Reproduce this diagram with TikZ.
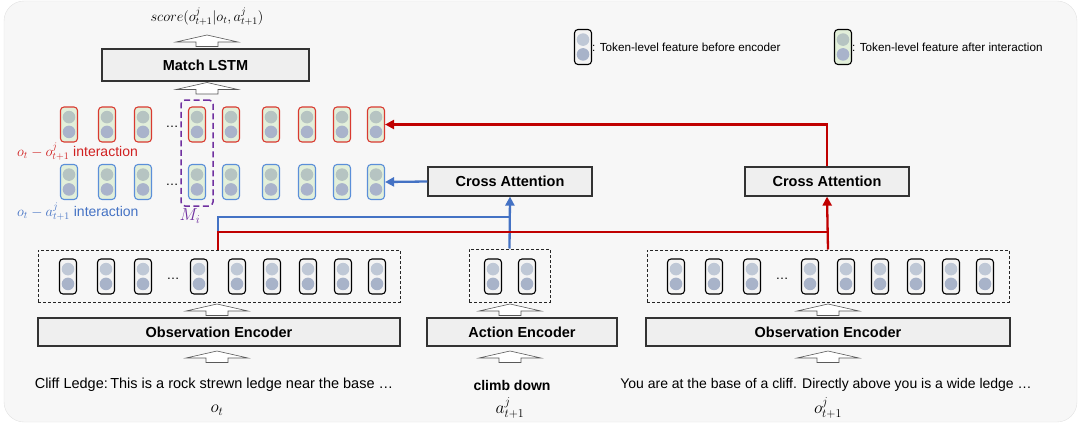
\documentclass[tikz,border=0pt]{standalone}
\usepackage{fontspec}
\setmainfont{Liberation Sans}
\usetikzlibrary{arrows.meta,calc}
\definecolor{bgc}{HTML}{F7F7F7}
\definecolor{bgline}{HTML}{E2E2E2}
\definecolor{boxfill}{HTML}{EFEFEF}
\definecolor{boxline}{HTML}{333333}
\definecolor{cred}{HTML}{C00000}
\definecolor{cblue}{HTML}{4472C4}
\definecolor{cpurple}{HTML}{7030A0}
\definecolor{redb}{HTML}{D93A30}
\definecolor{blueb}{HTML}{5B8FD9}
\definecolor{tokgreen}{HTML}{E2EFDA}
\definecolor{tokwhite}{HTML}{F4F4F4}
\definecolor{cgt}{HTML}{B6C4C2}
\definecolor{cgb}{HTML}{A9B3CB}
\definecolor{cpt}{HTML}{BFC8D6}
\definecolor{cpb}{HTML}{A8B3C9}
\definecolor{txtred}{HTML}{D02020}
\definecolor{txtblue}{HTML}{4472C4}
\begin{document}
\begin{tikzpicture}[x=1pt,y=-1pt,
  tokshape/.style={rectangle, rounded corners=3.5pt, minimum width=17pt, minimum height=35pt, inner sep=0pt, line width=1.1pt},
  tokI/.style={tokshape, fill=tokgreen, path picture={
     \fill[cgt] ([yshift=7.4pt]path picture bounding box.center) circle (6.3pt);
     \fill[cgb] ([yshift=-7.4pt]path picture bounding box.center) circle (6.3pt);}},
  tokP/.style={tokshape, draw=black, fill=tokwhite, path picture={
     \fill[cpt] ([yshift=7.4pt]path picture bounding box.center) circle (6.3pt);
     \fill[cpb] ([yshift=-7.4pt]path picture bounding box.center) circle (6.3pt);}},
  blockbox/.style={draw=boxline, fill=boxfill, line width=1.2pt, inner sep=0pt, font=\fontsize{14.5}{17}\selectfont\bfseries},
  dashbox/.style={draw=black!85, dash pattern=on 3pt off 2pt, line width=1pt},
  hollow/.style={draw=black!65, fill=white, line width=0.6pt},
  redarrow/.style={draw=cred, line width=2.3pt, -{Triangle[length=9pt,width=9pt]}},
  redline/.style={draw=cred, line width=2.3pt},
  bluearrow/.style={draw=cblue, line width=2.3pt, -{Triangle[length=9pt,width=9pt]}},
  blueline/.style={draw=cblue, line width=2.3pt},
  plaintext/.style={inner sep=0pt, font=\fontsize{14}{17}\selectfont},
  mathtext/.style={inner sep=0pt, font=\fontsize{18}{21}\selectfont},
  dots/.style={inner sep=0pt, font=\fontsize{13}{15}\selectfont}
]
\useasboundingbox (0,0) rectangle (1083,428);
% background panel
\fill[bgc, draw=bgline, rounded corners=20pt] (4,1) rectangle (1077,422);

% hollow arrow pic
\tikzset{uparr/.pic={
  \path[hollow] (0,0) -- (31,7) -- (11,7) -- (11,11.5) -- (-11,11.5) -- (-11,7) -- (-31,7) -- cycle;}}

% top part
\node[inner sep=0pt, font=\fontsize{14.5}{17}\selectfont] (score) at (207,17) {$score(o^j_{t+1}|o_t,a^j_{t+1})$};
\pic at (207,35) {uparr};
\node[blockbox, minimum width=207pt, minimum height=32pt] (lstm) at (205.5,65) {Match LSTM};
\pic at (207,82.5) {uparr};

% interaction tokens
\foreach \x [count=\i] in {69,107,143,197,231,271,307,342,376} {
  \node[tokI, draw=redb] (r\i) at (\x,124.5) {};
  \node[tokI, draw=blueb] (b\i) at (\x,182) {};
}
\node[dots] (rdots) at (172,127) {\dots};
\node[dots] (bdots) at (172,185) {\dots};

\node[inner sep=0pt, anchor=west, text=txtred, font=\fontsize{14}{16}\selectfont] (rlab) at (17,152) {$o_t-o^j_{t+1}$ interaction};
\node[inner sep=0pt, anchor=west, text=txtblue, font=\fontsize{14}{16}\selectfont] (blab) at (17,212) {$o_t-a^j_{t+1}$ interaction};

\node[draw=cpurple, dash pattern=on 6pt off 3.5pt, line width=1.5pt, rounded corners=4pt, minimum width=32pt, minimum height=106pt, inner sep=0pt] (mi) at (197,153) {};
\node[inner sep=0pt, text=cpurple, font=\fontsize{18}{21}\selectfont] (milab) at (190,216) {$M_i$};

% legend
\node[tokP] (leg1) at (583,47) {};
\node[inner sep=0pt, anchor=west, font=\fontsize{11.7}{13}\selectfont] (leg1t) at (592,47) {: Token-level feature before encoder};
\node[tokI, draw=black] (leg2) at (843,47) {};
\node[inner sep=0pt, anchor=west, font=\fontsize{11.7}{13}\selectfont] (leg2t) at (852,47) {: Token-level feature after interaction};

% cross attention boxes
\node[blockbox, minimum width=164pt, minimum height=29pt] (caL) at (510,181.5) {Cross Attention};
\node[blockbox, minimum width=164pt, minimum height=29pt] (caR) at (827,181.5) {Cross Attention};

% dashed token boxes
\node[dashbox, minimum width=362pt, minimum height=52pt, inner sep=0pt] (dashL) at (219,276) {};
\node[dashbox, minimum width=81pt, minimum height=53pt, inner sep=0pt] (dashA) at (509.5,275.5) {};
\node[dashbox, minimum width=362pt, minimum height=52pt, inner sep=0pt] (dashR) at (828,276) {};

\foreach \x [count=\i] in {68,106,143,199,237,272,308,343,377} {
  \node[tokP] (l\i) at (\x,276.5) {};
}
\node[dots] (ldots) at (173,279) {\dots};
\foreach \x [count=\i] in {493,527} {
  \node[tokP] (a\i) at (\x,276.5) {};
}
\foreach \x [count=\i] in {676,714,752,810,846,880,916,951,985} {
  \node[tokP] (o\i) at (\x,276.5) {};
}
\node[dots] (odots) at (782,279) {\dots};

% hollow arrows to dashed boxes
\pic at (217,304) {uparr};
\pic at (510,304) {uparr};
\pic at (828,304) {uparr};

% encoders
\node[blockbox, minimum width=362pt, minimum height=28pt] (encL) at (219,332) {Observation Encoder};
\node[blockbox, minimum width=190pt, minimum height=28pt] (encA) at (522,332) {Action Encoder};
\node[blockbox, minimum width=364pt, minimum height=28pt] (encR) at (828,332) {Observation Encoder};

\pic at (217,351) {uparr};
\pic at (510,351) {uparr};
\pic at (828,351) {uparr};

% inputs
\node[plaintext, font=\fontsize{14.5}{17}\selectfont] (inL) at (214,385) {Cliff Ledge:\,This is a rock strewn ledge near the base \dots};
\node[plaintext, font=\fontsize{14}{17}\selectfont\bfseries] (inA) at (512,385) {climb down};
\node[plaintext] (inR) at (826,385) {You are at the base of a cliff. Directly above you is a wide ledge \dots};
\node[mathtext] (mL) at (217,410) {$o_t$};
\node[mathtext] (mA) at (510,408) {$a^j_{t+1}$};
\node[mathtext] (mR) at (828,408) {$o^j_{t+1}$};

% connectors
\coordinate (jL) at (218,250);
\coordinate (jB) at (218,217);
\coordinate (jR) at (218,232);
\draw[blueline] (jL) -- (jB) -- (jB -| dashA.north);
\draw[bluearrow] (dashA.north) -- (caL.south);
\draw[bluearrow] (caL.west) -- (b9.east);
\draw[redline] (jL) -- (jR) -- (jR -| dashR.north);
\draw[redarrow] (dashR.north) -- (caR.south);
\draw[redarrow] (caR.north) |- (r9.east);
\end{tikzpicture}
\end{document}
